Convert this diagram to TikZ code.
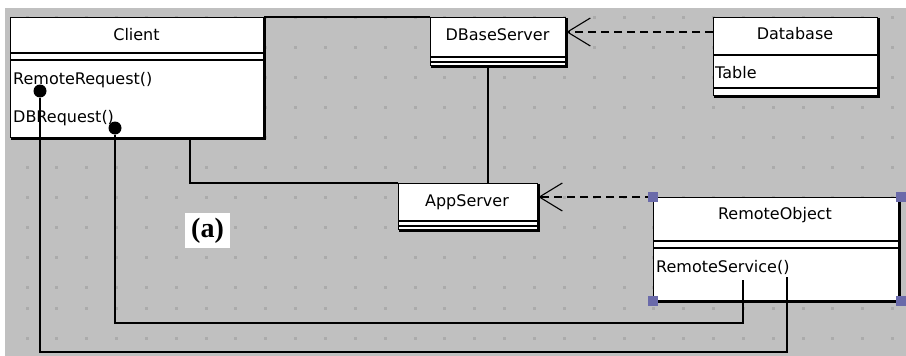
\documentclass[tikz,border=0pt]{standalone}
\usepackage{fontspec}
\setmainfont{DejaVu Sans}
\newfontfamily\labelfont{Liberation Serif}
\usetikzlibrary{arrows.meta}
\definecolor{bgc}{HTML}{C0C0C0}
\definecolor{dotc}{HTML}{ABABAB}
\definecolor{handlec}{HTML}{6A6AAA}
\begin{document}
\begin{tikzpicture}[x=1pt,y=-1pt,
  box/.style={draw=black, fill=white, line width=1.3pt, rectangle, inner sep=0pt, anchor=north west},
  shadow/.style={line width=2.4pt},
  divider/.style={line width=1.2pt},
  conn/.style={line width=1.4pt},
  dep/.style={line width=1.1pt, dash pattern=on 8pt off 5pt,
    -{Straight Barb[length=23pt,width=28pt,line width=1.1pt]}},
  lbl/.style={font=\fontsize{16}{19}\selectfont, inner sep=0pt},
  handle/.style={fill=handlec, draw=none, minimum size=10pt, inner sep=0pt},
  ball/.style={circle, fill=black, draw=none, minimum size=13pt, inner sep=0pt},
]
\useasboundingbox (0,0) rectangle (906,356);
\fill[white] (0,0) rectangle (906,356);
\fill[bgc] (5,8) rectangle (906,356);
% grid dots
\foreach \gy in {17.5,47.5,77.5,107.5,137.5,167.5,197.5,227.5,257.5,287.5,308,338}{
  \foreach \k in {0,...,29}{
    \fill[dotc] ({27+29.85*\k-1.5},{\gy-1.5}) rectangle ++(3,3);
  }
}
% helper coordinates
\coordinate (x488) at (488,0);
\coordinate (y32) at (0,32);
\coordinate (y53) at (0,53);
\coordinate (y60) at (0,60);
\coordinate (y57) at (0,57);
\coordinate (y62) at (0,62);
\coordinate (y55) at (0,55);
\coordinate (y88) at (0,88);
\coordinate (y221) at (0,221);
\coordinate (y226) at (0,226);
\coordinate (y241) at (0,241);
\coordinate (y248) at (0,248);
% boxes
\node[box, minimum width=253pt, minimum height=120pt] (client) at (10,17) {};
\node[box, minimum width=135pt, minimum height=48pt] (dbs) at (430,17) {};
\node[box, minimum width=164pt, minimum height=78pt] (db) at (713,17) {};
\node[box, minimum width=139pt, minimum height=46pt] (app) at (398,183) {};
\node[box, minimum width=245pt, minimum height=103pt] (ro) at (653,197) {};
% shadows
\foreach \b in {client,dbs,db,app,ro}{
  \draw[shadow] ([xshift=0.8pt,yshift=-1pt]\b.north east) -- ([xshift=0.8pt,yshift=-0.8pt]\b.south east) -- ([xshift=1pt,yshift=-0.8pt]\b.south west);
}
% dividers
\draw[divider] (client.west |- y53) -- (client.east |- y53);
\draw[divider] (client.west |- y60) -- (client.east |- y60);
\draw[divider] (dbs.west |- y57) -- (dbs.east |- y57);
\draw[divider] (dbs.west |- y62) -- (dbs.east |- y62);
\draw[divider] (db.west |- y55) -- (db.east |- y55);
\draw[divider] (db.west |- y88) -- (db.east |- y88);
\draw[divider] (app.west |- y221) -- (app.east |- y221);
\draw[divider] (app.west |- y226) -- (app.east |- y226);
\draw[divider] (ro.west |- y241) -- (ro.east |- y241);
\draw[divider] (ro.west |- y248) -- (ro.east |- y248);
% texts
\node[lbl] (tclient) at (136.5,35) {Client};
\node[lbl, anchor=west] (trr) at (13,80) {RemoteRequest()};
\node[lbl, anchor=west] (tdbr) at (13,118) {DBRequest()};
\node[lbl] (tdbs) at (497.5,35) {DBaseServer};
\node[lbl] (tdb) at (795,34) {Database};
\node[lbl, anchor=west] (ttable) at (715,73) {Table};
\node[lbl] (tapp) at (467,202) {AppServer};
\node[lbl] (tro) at (775,215) {RemoteObject};
\node[lbl, anchor=west] (trs) at (656,267) {RemoteService()};
% connector end points
\coordinate (cb) at (190,137);
\coordinate (rs1) at (743,280);
\coordinate (rs2) at (787,277);
\coordinate (b1) at (787,352);
\coordinate (b2) at (743,323);
% balls
\node[ball] (d1) at (40,91) {};
\node[ball] (d2) at (115,128) {};
% associations
\draw[conn] (client.north east) -- (dbs.north west);
\draw[conn] (dbs.south -| x488) -- (app.north -| x488);
\draw[conn] (cb) |- (app.north west);
\draw[conn] (d1.south) |- (b1) -- (rs2);
\draw[conn] (d2.south) |- (b2) -- (rs1);
% dependencies
\draw[dep] (db.west |- y32) -- (dbs.east |- y32);
\draw[dep] (ro.north west) -- (app.east |- ro.north west);
% label
\node[fill=white, minimum width=45pt, minimum height=35pt, inner sep=0pt,
  font=\labelfont\bfseries\fontsize{28}{30}\selectfont] (lab) at (207.5,230.5) {(a)};
% selection handles
\node[handle] (h1) at (ro.north west) {};
\node[handle] (h2) at ([xshift=2pt]ro.north east) {};
\node[handle] (h3) at (ro.south west) {};
\node[handle] (h4) at ([xshift=2pt]ro.south east) {};
\end{tikzpicture}
\end{document}
